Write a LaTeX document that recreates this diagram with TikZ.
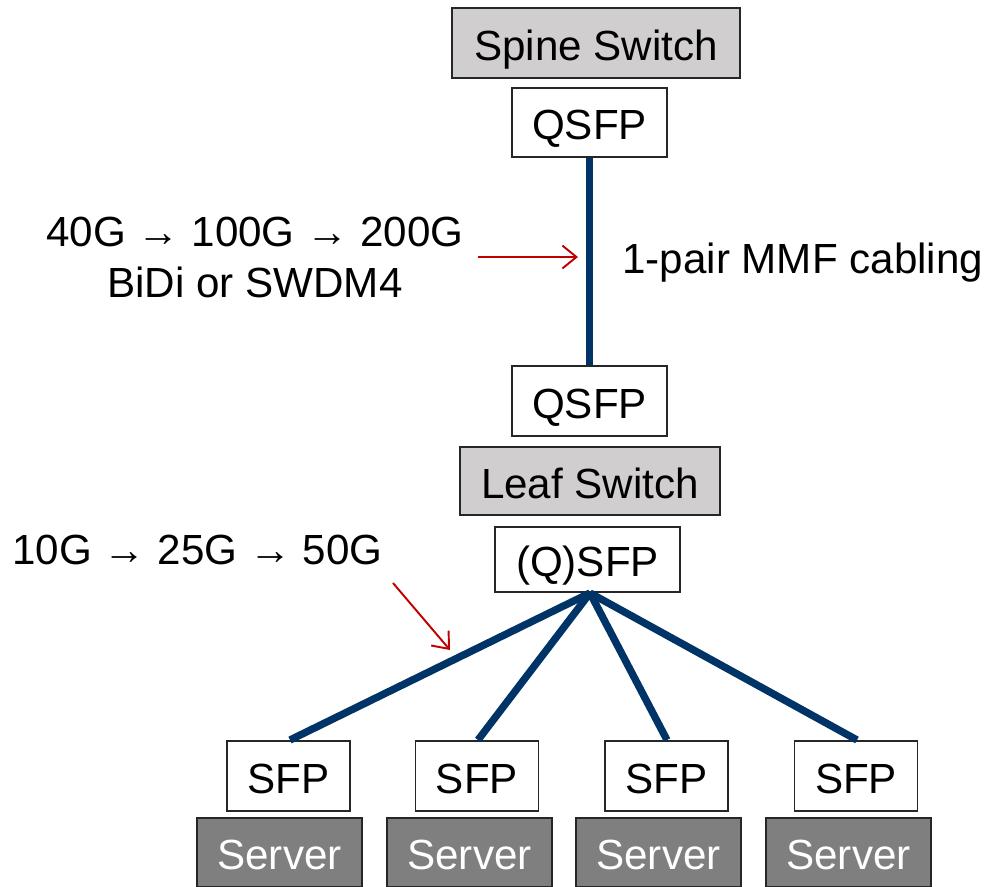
\documentclass[tikz,border=0pt]{standalone}
\usepackage{fontspec}
\setmainfont{Liberation Sans}
\usetikzlibrary{arrows.meta}
\definecolor{switchgray}{HTML}{D0CECE}
\definecolor{servergray}{HTML}{7F7F7F}
\definecolor{cablenavy}{HTML}{003366}
\definecolor{notered}{HTML}{C00000}
\tikzset{
  box/.style={draw=black!85, line width=1pt, inner sep=0pt, text height=0.72cm, text depth=0.04cm, font=\fontsize{24}{28}\selectfont},
  switchbox/.style={box, fill=switchgray},
  portbox/.style={box, fill=white},
  serverbox/.style={box, fill=servergray, text=white},
  cable/.style={cablenavy, line width=4.2pt},
  note/.style={font=\fontsize{24}{28}\selectfont, inner sep=0pt},
  pointer/.style={notered, line width=1.1pt, -{Straight Barb[length=8pt,width=13pt]}}
}
\begin{document}
\begin{tikzpicture}[x=0.02cm, y=-0.02cm]
\useasboundingbox (0,0) rectangle (992,887);
% spine and leaf
\node[switchbox, minimum width=5.76cm, minimum height=1.4cm] (spine) at (596,43) {Spine Switch};
\node[portbox, minimum width=3.1cm, minimum height=1.38cm] (qspine) at (589.5,122.5) {QSFP};
\node[portbox, minimum width=3.1cm, minimum height=1.4cm] (qleafup) at (589.5,401) {QSFP};
\node[switchbox, minimum width=5.2cm, minimum height=1.36cm] (leaf) at (590,481) {Leaf Switch};
\node[portbox, minimum width=3.7cm, minimum height=1.3cm] (qleafdown) at (587.5,559.5) {(Q)SFP};
% servers
\foreach \i/\x/\s in {1/288.5/279.5, 2/477/469.5, 3/666.5/658.5, 4/856/848.5} {
  \node[portbox, minimum width=2.46cm, minimum height=1.4cm] (sfp\i) at (\x,776) {SFP};
  \node[serverbox, minimum width=3.3cm, minimum height=1.38cm] (server\i) at (\s,852.5) {Server};
}
% cabling
\draw[cable] (qspine.south) -- (qleafup.north);
\coordinate (fan) at (590,593);
\coordinate (s1) at (290,740);
\coordinate (s2) at (478,740);
\coordinate (s3) at (667,740);
\coordinate (s4) at (857,740);
\foreach \i in {1,...,4}
  \draw[cable] (fan) -- (s\i);
% notes
\node[note] (uplink) at (255,232) {40G → 100G → 200G};
\node[note] (bidi) at (255,282) {BiDi or SWDM4};
\node[note, anchor=west] (mmf) at (622,263) {1-pair MMF cabling};
\node[note, anchor=west] (downlink) at (12,550) {10G → 25G → 50G};
\coordinate (p1) at (478,257);
\coordinate (p2) at (578,257);
\coordinate (p3) at (393,583);
\coordinate (p4) at (450,650);
\draw[pointer] (p1) -- (p2);
\draw[pointer] (p3) -- (p4);
\end{tikzpicture}
\end{document}
